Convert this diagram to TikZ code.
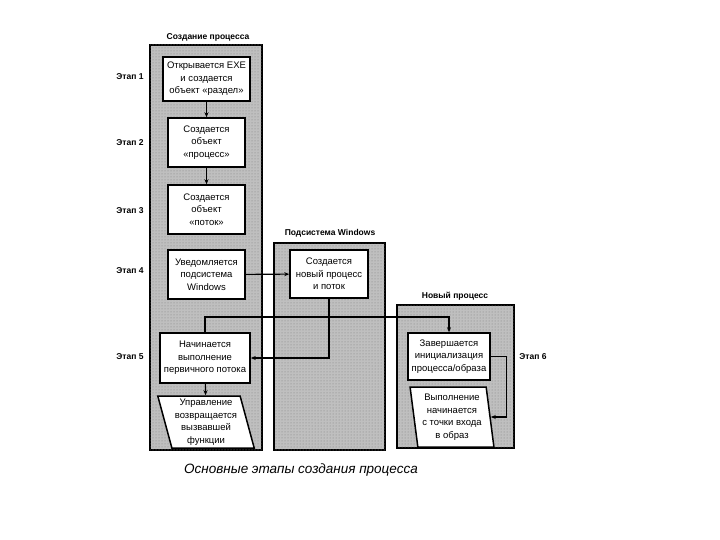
\documentclass[tikz,border=0pt]{standalone}
\usepackage{fontspec}
\setmainfont{Liberation Sans}
\usetikzlibrary{patterns, shapes.geometric, arrows.meta}

\begin{document}
\begin{tikzpicture}[x=1pt,y=-1pt,
    panel/.style={draw=black, line width=1.6pt, fill=black!25,
        postaction={pattern=dots, pattern color=black!50}},
    stepbox/.style={draw=black, line width=1.5pt, fill=white, align=center,
        font=\fontsize{9.5}{12.5}\selectfont, inner sep=1pt},
    slantbox/.style={stepbox, trapezium, trapezium stretches=true,
        inner xsep=0pt},
    title/.style={font=\bfseries\fontsize{8.5}{10}\selectfont},
    stage/.style={font=\bfseries\fontsize{8.5}{10}\selectfont},
    link/.style={line width=1.1pt, -{Stealth[length=5pt,width=4pt]}}]
    % Page frame
    \useasboundingbox (0,0) rectangle (720,540);
    % Draw the three panels
    \draw[panel] (150,45) rectangle (262,450);
    \draw[panel] (274,243) rectangle (385,450);
    \draw[panel] (397,305) rectangle (514,448);
    \node[title] (tcreate) at (208,37) {Создание процесса};
    \node[title] (tsub) at (330,233) {Подсистема Windows};
    \node[title] (tnew) at (455,296) {Новый процесс};
    % Stage labels
    \foreach \n/\y in {1/77,2/143,3/211,4/271,5/357}
        \node[stage] (stage\n) at (130,\y) {Этап \n};
    \node[stage] (stage6) at (533,357) {Этап 6};
    % Boxes of the creating process
    \node[stepbox, minimum width=87pt, minimum height=44pt] (open) at (206.5,79)
        {Открывается EXE\\и создается\\объект «раздел»};
    \node[stepbox, minimum width=77pt, minimum height=49pt] (proc) at (206.5,142.5)
        {Создается\\объект\\«процесс»};
    \node[stepbox, minimum width=77pt, minimum height=49pt] (thread) at (206.5,209.5)
        {Создается\\объект\\«поток»};
    \node[stepbox, minimum width=77pt, minimum height=49pt] (notify) at (206.5,274.5)
        {Уведомляется\\подсистема\\Windows};
    \node[stepbox, minimum width=90pt, minimum height=50pt] (start) at (205,358)
        {Начинается\\выполнение\\первичного потока};
    \node[slantbox, trapezium left angle=105, trapezium right angle=75,
        minimum width=97pt, minimum height=52pt] (back) at (206,422)
        {Управление\\возвращается\\вызвавшей\\функции};
    % Windows subsystem
    \node[stepbox, minimum width=78pt, minimum height=48pt] (newproc) at (329,274)
        {Создается\\новый процесс\\и поток};
    % New process
    \node[stepbox, minimum width=82pt, minimum height=47pt] (init) at (449,356.5)
        {Завершается\\инициализация\\процесса/образа};
    \node[slantbox, trapezium left angle=98, trapezium right angle=82,
        minimum width=84pt, minimum height=60pt] (entry) at (452,417)
        {Выполнение\\начинается\\с точки входа\\в образ};
    % Connectors
    \coordinate (up) at (205,317);
    \draw[link] (open) -- (proc);
    \draw[link] (proc) -- (thread);
    \draw[link] (notify) -- (newproc);
    \draw[link] (newproc.south) |- (start.east);
    \draw[link] (start.north) -- (up) -| (init.north);
    \draw[link] (start) -- (back);
    \draw[link] (init.east) -- ++(16,0) |- (entry.east);
    % Caption
    \node[font=\itshape\fontsize{13.5}{16}\selectfont] (caption) at (301,470)
        {Основные этапы создания процесса};
\end{tikzpicture}
\end{document}
